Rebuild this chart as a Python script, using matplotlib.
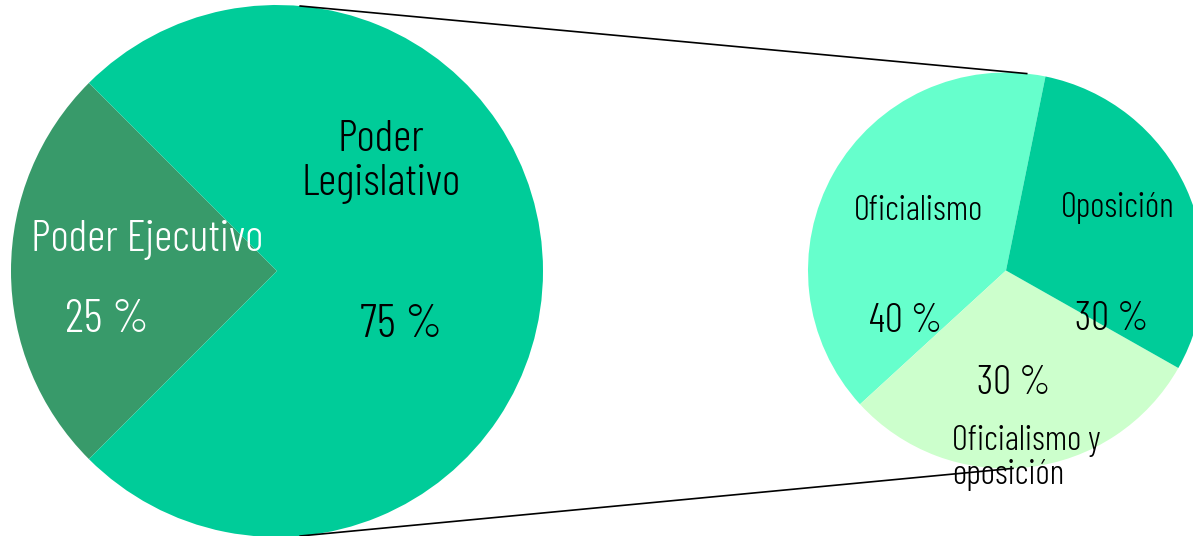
import numpy as np
import matplotlib
matplotlib.use("Agg")
import matplotlib.pyplot as plt

# data
poder_labels = ["Poder Ejecutivo", "Poder\nLegislativo"]
poder_values = [25, 75]
poder_colors = ["#389a6a", "#00cc99"]

leg_labels = ["Oficialismo", "Oficialismo y\noposición", "Oposición"]
leg_values = [40, 30, 30]
leg_colors = ["#66ffcc", "#ccffcc", "#00cc99"]

plt.rcParams['font.family'] = ['Barlow Condensed', 'DejaVu Sans']
plt.rcParams['font.weight'] = 300

W, H = 1193, 536
fig = plt.figure(figsize=(W / 100, H / 100), dpi=100)
ax = fig.add_axes([0, 0, 1, 1])

# big pie
c1, r1 = (277, 265), 266
ax.pie(poder_values, colors=poder_colors, startangle=135, counterclock=True,
       center=c1, radius=r1, frame=True,
       wedgeprops=dict(linewidth=0))

# small pie
c2, r2 = (1006, 265.5), 198
ax.pie(leg_values, colors=leg_colors, startangle=78.5, counterclock=True,
       center=c2, radius=r2, frame=True,
       wedgeprops=dict(linewidth=0))
ax.set_xlim(0, W)
ax.set_ylim(0, H)
ax.axis('off')

# connector lines
def on_circle(c, r, deg):
    a = np.deg2rad(deg)
    return c[0] + r * np.cos(a), c[1] + r * np.sin(a)

p1 = on_circle(c1, r1, 85)
p2 = on_circle(c2, r2, 84)
ax.plot([p1[0], p2[0]], [p1[1], p2[1]], color='black', lw=1.2, zorder=5)
p3 = on_circle(c1, r1, -85)
p4 = on_circle(c2, r2, -88)
ax.plot([p3[0], p4[0]], [p3[1], p4[1]], color='black', lw=1.2, zorder=5)

def T(x, y, s, size, color='black', ha='center', ls=1.2):
    ax.text(x, H - y, s, fontsize=size, color=color, ha=ha, va='center',
            linespacing=ls, zorder=6)

# big pie labels
T(147, 240, poder_labels[0], 32, color='white')
T(107, 320, f"{poder_values[0]} %", 34, color='white')
T(381, 162, poder_labels[1], 32, ls=1.15)
T(401, 325, f"{poder_values[1]} %", 34)

# small pie labels
T(918, 211, leg_labels[0], 25)
T(906, 321, f"{leg_values[0]} %", 29)
T(1118, 208, leg_labels[2], 25)
T(1112, 320, f"{leg_values[2]} %", 29)
T(1014, 384, f"{leg_values[1]} %", 29)
ax.text(952, H - 458, leg_labels[1], fontsize=25, color='black', ha='left',
        va='center', linespacing=1.05, zorder=6)

fig.savefig("out.png", dpi=100)
